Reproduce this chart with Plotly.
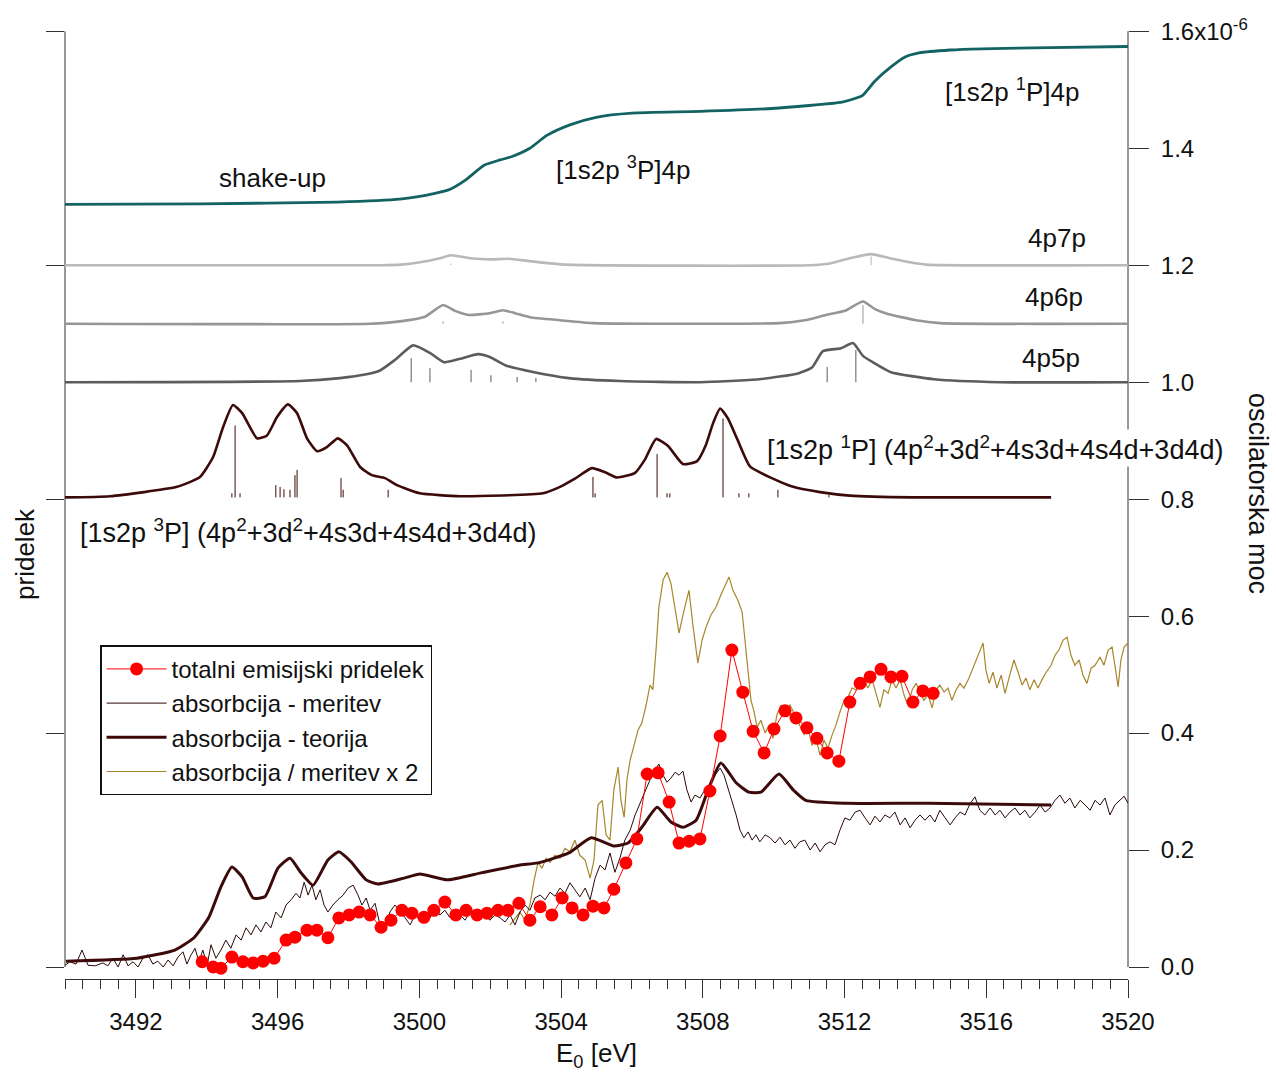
import plotly.graph_objects as go

# ---------------- upper panel: theoretical cross sections ----------------
shake_e = [3490.00, 3493.81, 3497.68, 3499.45, 3500.44, 3500.87, 3501.29, 3501.83, 3502.28,
           3502.62, 3503.12, 3503.60, 3504.25, 3504.99, 3506.00, 3507.92, 3509.95, 3511.93,
           3512.29, 3512.52, 3512.86, 3513.31, 3513.71, 3514.10, 3514.98, 3515.88, 3517.80, 3520.00]
shake_v = [1.304, 1.305, 1.308, 1.313, 1.323, 1.330, 1.345, 1.371, 1.380,
           1.386, 1.400, 1.422, 1.440, 1.453, 1.460, 1.463, 1.468, 1.479,
           1.485, 1.491, 1.515, 1.539, 1.556, 1.563, 1.568, 1.570, 1.572, 1.574]

p7_e = [3490.00, 3498.89, 3499.48, 3500.02, 3500.58, 3500.89, 3501.43, 3501.99, 3502.53, 3503.12,
        3504.14, 3511.00, 3511.59, 3512.15, 3512.75, 3513.28, 3513.85, 3514.30, 3520.00]
p7_v = [1.200, 1.200, 1.201, 1.205, 1.212, 1.217, 1.212, 1.210, 1.211, 1.207,
        1.201, 1.200, 1.203, 1.212, 1.219, 1.212, 1.205, 1.201, 1.200]

p6_e = [3490.00, 3498.61, 3499.45, 3500.16, 3500.67, 3501.01, 3501.40, 3501.99, 3502.36, 3502.70,
        3503.12, 3503.97, 3504.93, 3510.18, 3510.88, 3511.48, 3512.01, 3512.52, 3512.86, 3513.20,
        3514.02, 3514.69, 3520.00]
p6_v = [1.100, 1.100, 1.104, 1.112, 1.132, 1.122, 1.115, 1.118, 1.123, 1.118,
        1.111, 1.106, 1.101, 1.101, 1.106, 1.115, 1.122, 1.138, 1.125, 1.117,
        1.106, 1.101, 1.100]

p5_e = [3490.00, 3496.63, 3497.76, 3498.47, 3498.89, 3499.31, 3499.82, 3500.30, 3500.70, 3501.15,
        3501.66, 3501.99, 3502.42, 3503.24, 3504.22, 3505.66, 3507.92, 3509.59, 3510.69, 3511.08,
        3511.39, 3511.90, 3512.24, 3512.52, 3512.80, 3513.31, 3514.53, 3516.39, 3520.00]
p5_v = [1.000, 1.002, 1.007, 1.013, 1.020, 1.038, 1.063, 1.050, 1.034, 1.040,
        1.048, 1.043, 1.029, 1.017, 1.007, 1.002, 1.000, 1.005, 1.015, 1.025,
        1.053, 1.058, 1.067, 1.045, 1.034, 1.017, 1.005, 1.000, 1.000]

# oscillator-strength sticks for the 4pnp shake-up series
p5_stick_e = [3499.77, 3500.30, 3501.46, 3502.02, 3502.76, 3503.29, 3511.51, 3512.32]
p5_stick_v = [1.041, 1.024, 1.021, 1.012, 1.009, 1.007, 1.026, 1.055]
p6_stick_e = [3500.67, 3502.36, 3512.52]
p6_stick_v = [1.104, 1.104, 1.132]
p7_stick_e = [3500.89, 3512.75]
p7_stick_v = [1.203, 1.215]

# [1s2p] two-electron excitations
kl_e = [3490.00, 3491.27, 3493.16, 3493.81, 3494.18, 3494.46, 3494.74, 3495.00, 3495.42, 3495.70,
        3495.98, 3496.29, 3496.55, 3496.83, 3497.11, 3497.39, 3497.70, 3497.96, 3498.33, 3498.66,
        3499.03, 3499.37, 3500.02, 3501.15, 3503.49, 3503.97, 3504.39, 3504.87, 3505.24, 3505.58,
        3506.09, 3506.37, 3506.68, 3507.02, 3507.44, 3507.84, 3508.09, 3508.29, 3508.49, 3508.71,
        3508.97, 3509.33, 3509.98, 3510.55, 3511.31, 3512.15, 3513.93, 3517.83]
kl_v = [0.803, 0.805, 0.821, 0.838, 0.872, 0.923, 0.961, 0.947, 0.904, 0.909,
        0.940, 0.962, 0.947, 0.904, 0.882, 0.889, 0.904, 0.892, 0.855, 0.841,
        0.836, 0.824, 0.810, 0.805, 0.810, 0.821, 0.835, 0.853, 0.846, 0.837,
        0.845, 0.868, 0.903, 0.891, 0.860, 0.865, 0.893, 0.930, 0.955, 0.938,
        0.903, 0.856, 0.835, 0.821, 0.812, 0.806, 0.803, 0.803]
kl_base = 0.803
kl_stick_e = [3494.71, 3494.80, 3494.94, 3495.95, 3496.07, 3496.18, 3496.35, 3496.49, 3496.55,
              3497.79, 3497.85, 3499.12, 3504.90, 3504.96, 3506.71, 3506.99, 3507.07, 3508.57,
              3509.02, 3509.30, 3510.12, 3511.56]
kl_stick_v = [0.810, 0.926, 0.810, 0.824, 0.821, 0.817, 0.816, 0.841, 0.850,
              0.836, 0.816, 0.816, 0.838, 0.810, 0.877, 0.810, 0.810, 0.938,
              0.810, 0.810, 0.816, 0.807]

# ---------------- lower panel: absorption and yield ----------------
teor_e = [3490.03, 3492.03, 3493.10, 3493.64, 3494.06, 3494.40, 3494.71, 3495.00, 3495.31, 3495.64,
          3496.01, 3496.35, 3496.66, 3497.00, 3497.42, 3497.73, 3498.07, 3498.50, 3498.83, 3499.57,
          3500.02, 3500.78, 3501.74, 3502.81, 3503.35, 3504.22, 3504.85, 3505.49, 3505.89, 3506.28,
          3506.71, 3507.10, 3507.44, 3507.81, 3508.15, 3508.51, 3508.94, 3509.30, 3509.64, 3510.15,
          3510.55, 3510.91, 3512.07, 3514.36, 3517.83]
teor_v = [0.010, 0.015, 0.029, 0.050, 0.085, 0.137, 0.171, 0.154, 0.118, 0.120,
          0.169, 0.186, 0.161, 0.140, 0.183, 0.197, 0.180, 0.149, 0.142, 0.152,
          0.159, 0.149, 0.161, 0.174, 0.178, 0.195, 0.221, 0.207, 0.212, 0.239,
          0.273, 0.248, 0.239, 0.251, 0.303, 0.349, 0.315, 0.299, 0.299, 0.330,
          0.303, 0.285, 0.280, 0.280, 0.277]

mer_e = [3490.00, 3490.14, 3490.31, 3490.48, 3490.65, 3490.85, 3491.07, 3491.21, 3491.35, 3491.50,
         3491.64, 3491.78, 3491.92, 3492.06, 3492.20, 3492.34, 3492.48, 3492.62, 3492.77, 3492.91,
         3493.05, 3493.19, 3493.33, 3493.44, 3493.56, 3493.67, 3493.78, 3493.89, 3494.01, 3494.12,
         3494.26, 3494.40, 3494.54, 3494.68, 3494.83, 3494.97, 3495.11, 3495.25, 3495.39, 3495.53,
         3495.67, 3495.81, 3495.95, 3496.10, 3496.24, 3496.38, 3496.52, 3496.63, 3496.75, 3496.86,
         3496.97, 3497.08, 3497.20, 3497.31, 3497.42, 3497.56, 3497.70, 3497.85, 3497.99, 3498.13,
         3498.27, 3498.38, 3498.50, 3498.61, 3498.75, 3498.89, 3499.03, 3499.17, 3499.31, 3499.45,
         3499.60, 3499.74, 3499.88, 3500.02, 3500.16, 3500.30, 3500.44, 3500.58, 3500.72, 3500.87,
         3501.01, 3501.15, 3501.29, 3501.43, 3501.57, 3501.71, 3501.85, 3501.99, 3502.14, 3502.28,
         3502.42, 3502.56, 3502.70, 3502.84, 3502.98, 3503.12, 3503.26, 3503.41, 3503.55, 3503.69,
         3503.83, 3503.97, 3504.11, 3504.25, 3504.39, 3504.53, 3504.68, 3504.82, 3504.96, 3505.10,
         3505.24, 3505.38, 3505.52, 3505.66, 3505.80, 3505.95, 3506.09, 3506.23, 3506.37, 3506.51,
         3506.65, 3506.76, 3506.88, 3506.99, 3507.10, 3507.22, 3507.33, 3507.44, 3507.55, 3507.67,
         3507.78, 3507.92, 3508.06, 3508.20, 3508.34, 3508.49, 3508.60, 3508.71, 3508.82, 3508.94,
         3509.05, 3509.16, 3509.28, 3509.39, 3509.50, 3509.61, 3509.76, 3509.90, 3510.04, 3510.18,
         3510.32, 3510.46, 3510.60, 3510.74, 3510.88, 3511.03, 3511.17, 3511.31, 3511.45, 3511.59,
         3511.73, 3511.87, 3512.01, 3512.15, 3512.30, 3512.44, 3512.58, 3512.72, 3512.86, 3513.00,
         3513.14, 3513.28, 3513.42, 3513.57, 3513.71, 3513.85, 3513.99, 3514.13, 3514.27, 3514.41,
         3514.55, 3514.69, 3514.84, 3514.98, 3515.12, 3515.26, 3515.40, 3515.54, 3515.68, 3515.82,
         3515.96, 3516.11, 3516.25, 3516.39, 3516.53, 3516.67, 3516.81, 3516.95, 3517.09, 3517.23,
         3517.38, 3517.52, 3517.66, 3517.80, 3517.94, 3518.08, 3518.22, 3518.36, 3518.50, 3518.65,
         3518.79, 3518.93, 3519.07, 3519.21, 3519.35, 3519.49, 3519.63, 3519.77, 3519.89, 3520.00]
mer_v = [0.003, 0.009, 0.005, 0.029, 0.003, 0.002, 0.007, 0.002, 0.015, 0.000,
         0.021, 0.002, 0.009, 0.000, 0.015, 0.021, 0.005, 0.010, 0.000, 0.012,
         0.002, 0.017, 0.026, 0.005, 0.021, 0.032, 0.009, 0.029, 0.003, 0.038,
         0.015, 0.029, 0.046, 0.032, 0.055, 0.046, 0.067, 0.055, 0.072, 0.060,
         0.077, 0.067, 0.094, 0.084, 0.106, 0.115, 0.126, 0.118, 0.145, 0.123,
         0.140, 0.115, 0.132, 0.106, 0.094, 0.106, 0.115, 0.123, 0.135, 0.140,
         0.123, 0.106, 0.118, 0.097, 0.109, 0.072, 0.063, 0.094, 0.106, 0.097,
         0.084, 0.072, 0.089, 0.080, 0.094, 0.084, 0.101, 0.089, 0.097, 0.084,
         0.094, 0.089, 0.080, 0.094, 0.084, 0.097, 0.089, 0.080, 0.089, 0.084,
         0.077, 0.089, 0.072, 0.094, 0.106, 0.097, 0.118, 0.123, 0.115, 0.128,
         0.121, 0.135, 0.126, 0.144, 0.132, 0.120, 0.135, 0.115, 0.152, 0.174,
         0.166, 0.195, 0.162, 0.186, 0.217, 0.234, 0.260, 0.280, 0.303, 0.320,
         0.337, 0.347, 0.328, 0.316, 0.323, 0.333, 0.328, 0.335, 0.303, 0.282,
         0.294, 0.289, 0.303, 0.311, 0.328, 0.340, 0.328, 0.306, 0.285, 0.260,
         0.234, 0.221, 0.231, 0.217, 0.226, 0.214, 0.226, 0.221, 0.212, 0.222,
         0.209, 0.217, 0.203, 0.214, 0.217, 0.200, 0.212, 0.197, 0.209, 0.214,
         0.209, 0.234, 0.255, 0.251, 0.265, 0.268, 0.255, 0.243, 0.258, 0.248,
         0.260, 0.255, 0.265, 0.243, 0.255, 0.238, 0.251, 0.260, 0.251, 0.260,
         0.248, 0.268, 0.255, 0.243, 0.255, 0.265, 0.260, 0.279, 0.291, 0.268,
         0.260, 0.272, 0.260, 0.268, 0.255, 0.265, 0.272, 0.260, 0.268, 0.255,
         0.265, 0.277, 0.265, 0.272, 0.285, 0.294, 0.280, 0.289, 0.272, 0.285,
         0.277, 0.268, 0.285, 0.277, 0.289, 0.260, 0.277, 0.285, 0.292, 0.280]

x2_e = [3502.56, 3502.70, 3502.84, 3502.98, 3503.12, 3503.24, 3503.35, 3503.46, 3503.58, 3503.69,
        3503.83, 3503.97, 3504.11, 3504.25, 3504.39, 3504.53, 3504.68, 3504.82, 3504.93, 3505.04,
        3505.16, 3505.27, 3505.38, 3505.49, 3505.61, 3505.69, 3505.78, 3505.86, 3505.95, 3506.06,
        3506.17, 3506.28, 3506.40, 3506.51, 3506.59, 3506.68, 3506.76, 3506.88, 3506.99, 3507.10,
        3507.22, 3507.33, 3507.47, 3507.61, 3507.72, 3507.86, 3507.98, 3508.09, 3508.23, 3508.37,
        3508.51, 3508.63, 3508.74, 3508.85, 3508.99, 3509.11, 3509.19, 3509.28, 3509.36, 3509.45,
        3509.53, 3509.64, 3509.76, 3509.87, 3509.98, 3510.09, 3510.21, 3510.32, 3510.46, 3510.60,
        3510.74, 3510.86, 3510.97, 3511.08, 3511.20, 3511.31, 3511.42, 3511.53, 3511.65, 3511.76,
        3511.87, 3511.99, 3512.10, 3512.21, 3512.32, 3512.44, 3512.55, 3512.66, 3512.78, 3512.89,
        3513.00, 3513.11, 3513.23, 3513.34, 3513.45, 3513.57, 3513.68, 3513.79, 3513.91, 3514.02,
        3514.13, 3514.24, 3514.36, 3514.47, 3514.58, 3514.69, 3514.81, 3514.92, 3515.03, 3515.15,
        3515.26, 3515.37, 3515.49, 3515.60, 3515.71, 3515.82, 3515.91, 3515.99, 3516.08, 3516.19,
        3516.30, 3516.42, 3516.53, 3516.64, 3516.78, 3516.90, 3517.01, 3517.12, 3517.23, 3517.35,
        3517.46, 3517.57, 3517.69, 3517.83, 3517.94, 3518.05, 3518.17, 3518.28, 3518.39, 3518.50,
        3518.62, 3518.73, 3518.84, 3518.96, 3519.07, 3519.21, 3519.32, 3519.44, 3519.55, 3519.63,
        3519.72, 3519.80, 3519.89, 3520.00]
x2_v = [0.072, 0.084, 0.094, 0.080, 0.106, 0.149, 0.179, 0.169, 0.186, 0.179,
        0.191, 0.186, 0.203, 0.197, 0.217, 0.191, 0.183, 0.152, 0.183, 0.277,
        0.285, 0.226, 0.217, 0.303, 0.342, 0.285, 0.256, 0.320, 0.354, 0.379,
        0.405, 0.417, 0.448, 0.482, 0.474, 0.542, 0.615, 0.662, 0.675, 0.656,
        0.610, 0.571, 0.610, 0.644, 0.585, 0.520, 0.559, 0.581, 0.602, 0.615,
        0.636, 0.653, 0.667, 0.644, 0.627, 0.607, 0.559, 0.516, 0.456, 0.436,
        0.410, 0.422, 0.400, 0.414, 0.391, 0.431, 0.448, 0.436, 0.448, 0.431,
        0.414, 0.397, 0.409, 0.379, 0.391, 0.362, 0.388, 0.374, 0.397, 0.414,
        0.436, 0.456, 0.462, 0.477, 0.474, 0.485, 0.491, 0.477, 0.491, 0.465,
        0.444, 0.474, 0.468, 0.491, 0.477, 0.491, 0.465, 0.448, 0.474, 0.485,
        0.470, 0.456, 0.465, 0.443, 0.474, 0.482, 0.470, 0.477, 0.456, 0.474,
        0.485, 0.477, 0.491, 0.508, 0.525, 0.542, 0.554, 0.508, 0.485, 0.504,
        0.477, 0.499, 0.468, 0.494, 0.525, 0.504, 0.482, 0.494, 0.474, 0.491,
        0.477, 0.491, 0.504, 0.516, 0.533, 0.542, 0.559, 0.564, 0.533, 0.516,
        0.525, 0.499, 0.485, 0.511, 0.516, 0.530, 0.516, 0.542, 0.547, 0.516,
        0.479, 0.525, 0.547, 0.554]

tey_e = [3493.87, 3494.18, 3494.40, 3494.71, 3495.02, 3495.31, 3495.59, 3495.90, 3496.24, 3496.49,
         3496.83, 3497.11, 3497.42, 3497.73, 3498.02, 3498.30, 3498.61, 3498.92, 3499.20, 3499.51,
         3499.79, 3500.13, 3500.41, 3500.72, 3501.03, 3501.32, 3501.63, 3501.91, 3502.22, 3502.50,
         3502.81, 3503.12, 3503.41, 3503.74, 3504.03, 3504.31, 3504.62, 3504.90, 3505.21, 3505.49,
         3505.83, 3506.14, 3506.43, 3506.74, 3507.05, 3507.33, 3507.61, 3507.92, 3508.20, 3508.49,
         3508.82, 3509.13, 3509.42, 3509.73, 3510.01, 3510.32, 3510.63, 3510.94, 3511.22, 3511.51,
         3511.84, 3512.15, 3512.44, 3512.72, 3513.03, 3513.31, 3513.62, 3513.93, 3514.21, 3514.50]
tey_v = [0.009, 0.000, -0.002, 0.017, 0.009, 0.007, 0.010, 0.015, 0.046, 0.051,
         0.063, 0.063, 0.050, 0.084, 0.089, 0.094, 0.089, 0.068, 0.080, 0.097,
         0.092, 0.085, 0.097, 0.111, 0.089, 0.097, 0.089, 0.092, 0.097, 0.097,
         0.109, 0.080, 0.103, 0.089, 0.118, 0.101, 0.089, 0.104, 0.101, 0.133,
         0.178, 0.219, 0.330, 0.332, 0.282, 0.212, 0.215, 0.219, 0.301, 0.395,
         0.542, 0.470, 0.403, 0.366, 0.407, 0.438, 0.426, 0.409, 0.391, 0.366,
         0.352, 0.453, 0.485, 0.496, 0.509, 0.496, 0.497, 0.453, 0.472, 0.468]

x_ticks = [3492, 3496, 3500, 3504, 3508, 3512, 3516, 3520]
right_ticks = [0.0, 0.2, 0.4, 0.6, 0.8, 1.0, 1.2, 1.4, 1.6]
right_labels = ["0.0", "0.2", "0.4", "0.6", "0.8", "1.0", "1.2", "1.4", "1.6x10<sup>-6</sup>"]
left_ticks = [0.0, 0.4, 0.8, 1.2, 1.6]

FONT = "Liberation Sans, Arial, sans-serif"
AXC = "#333333"
C_TEAL = "#136363"
C_P7 = "#b9b9b9"
C_P6 = "#969696"
C_P5 = "#5c5c5c"
C_BROWN = "#3c0a0a"
C_THIN = "#2a0808"
C_GOLD = "#a8862c"
C_RED = "#ff0000"


def sticks(e, top, base):
    xs, ys = [], []
    for xe, yt in zip(e, top):
        xs += [xe, xe, None]
        ys += [base, yt, None]
    return xs, ys


fig = go.Figure()

# upper theoretical curves (right axis)
fig.add_trace(go.Scatter(x=shake_e, y=shake_v, mode="lines",
                         line=dict(color=C_TEAL, width=2.8, shape="spline", smoothing=0.6),
                         yaxis="y2", showlegend=False))
for e, v, col in [(p7_e, p7_v, C_P7), (p6_e, p6_v, C_P6), (p5_e, p5_v, C_P5)]:
    fig.add_trace(go.Scatter(x=e, y=v, mode="lines", line=dict(color=col, width=2.6, shape="spline", smoothing=0.5),
                             yaxis="y2", showlegend=False))
for e, v, base, col in [(p7_stick_e, p7_stick_v, 1.2, C_P7), (p6_stick_e, p6_stick_v, 1.1, C_P6),
                        (p5_stick_e, p5_stick_v, 1.0, C_P5), (kl_stick_e, kl_stick_v, kl_base, C_BROWN)]:
    sx, sy = sticks(e, v, base)
    fig.add_trace(go.Scatter(x=sx, y=sy, mode="lines", line=dict(color=col, width=1),
                             yaxis="y2", showlegend=False))
fig.add_trace(go.Scatter(x=kl_e, y=kl_v, mode="lines",
                         line=dict(color=C_BROWN, width=2.6, shape="spline", smoothing=0.5),
                         yaxis="y2", showlegend=False))

# lower panel
fig.add_trace(go.Scatter(x=x2_e, y=x2_v, mode="lines", line=dict(color=C_GOLD, width=1.2),
                         name="absorbcija / meritev x 2", legendrank=4))
fig.add_trace(go.Scatter(x=mer_e, y=mer_v, mode="lines", line=dict(color=C_THIN, width=1),
                         name="absorbcija - meritev", legendrank=2))
fig.add_trace(go.Scatter(x=teor_e, y=teor_v, mode="lines",
                         line=dict(color=C_BROWN, width=3, shape="spline", smoothing=0.5),
                         name="absorbcija - teorija", legendrank=3))
fig.add_trace(go.Scatter(x=tey_e, y=tey_v, mode="lines+markers", line=dict(color=C_RED, width=1),
                         marker=dict(color=C_RED, size=13, symbol="circle"),
                         name="totalni emisijski pridelek", legendrank=1))

# vertical axis lines spanning 0 .. 1.6
for xp in (0, 1):
    fig.add_shape(type="line", xref="paper", yref="y", x0=xp, x1=xp, y0=0, y1=1.6,
                  line=dict(color=AXC, width=1), layer="below")

txt = dict(family=FONT, size=26, color="#111111")
txt_long = dict(family=FONT, size=27, color="#111111")
ann = [
    dict(x=3495.87, y=1.349, text="shake-up", xanchor="center", font=txt),
    dict(x=3503.80, y=1.366, text="[1s2p <sup>3</sup>P]4p", xanchor="left", font=txt),
    dict(x=3514.78, y=1.499, text="[1s2p <sup>1</sup>P]4p", xanchor="left", font=txt),
    dict(x=3518.87, y=1.246, text="4p7p", xanchor="right", font=txt),
    dict(x=3518.79, y=1.145, text="4p6p", xanchor="right", font=txt),
    dict(x=3518.70, y=1.041, text="4p5p", xanchor="right", font=txt),
    dict(x=3509.76, y=0.887, text="[1s2p <sup>1</sup>P] (4p<sup>2</sup>+3d<sup>2</sup>+4s3d+4s4d+3d4d)",
         xanchor="left", bgcolor="white", font=txt_long),
    dict(x=3490.37, y=0.745, text="[1s2p <sup>3</sup>P] (4p<sup>2</sup>+3d<sup>2</sup>+4s3d+4s4d+3d4d)",
         xanchor="left", font=txt_long),
]
for a in ann:
    fig.add_annotation(xref="x", yref="y", yanchor="middle", showarrow=False, **a)

fig.add_annotation(xref="paper", yref="paper", x=-0.037, y=0.448, text="pridelek", textangle=-90,
                   showarrow=False, font=txt, xanchor="center", yanchor="middle")
fig.add_annotation(xref="paper", yref="paper", x=1.123, y=0.512, text="oscilatorska moc", textangle=90,
                   showarrow=False, font=txt_long, xanchor="center", yanchor="middle")

yr = [-0.0205, 1.6005]
fig.update_layout(
    width=1276, height=1075,
    margin=dict(l=65, r=148, t=31, b=96),
    paper_bgcolor="white", plot_bgcolor="white",
    font=dict(family=FONT, size=24, color="#111111"),
    xaxis=dict(range=[3490, 3520], tickvals=x_ticks, ticks="outside", ticklen=18, tickcolor=AXC,
               showline=True, linecolor=AXC, linewidth=1, showgrid=False, zeroline=False,
               minor=dict(dtick=0.5, tick0=3490, ticks="outside", ticklen=9, tickcolor=AXC),
               tickfont=dict(family=FONT, size=24), ticklabelstandoff=3,
               title=dict(text="E<sub>0</sub> [eV]", font=dict(family=FONT, size=26), standoff=10)),
    yaxis=dict(range=yr, tickvals=left_ticks, ticks="outside", ticklen=18, tickcolor=AXC,
               showticklabels=False, showline=False, showgrid=False, zeroline=False),
    yaxis2=dict(range=yr, overlaying="y", side="right", tickvals=right_ticks, ticktext=right_labels,
                ticks="outside", ticklen=20, tickcolor=AXC, showline=False, showgrid=False, zeroline=False,
                tickfont=dict(family=FONT, size=24), ticklabelstandoff=7),
    legend=dict(x=0.033, y=0.352, xanchor="left", yanchor="top", bgcolor="white",
                bordercolor="#111111", borderwidth=1.5, font=dict(family=FONT, size=24),
                itemwidth=60, tracegroupgap=0),
    showlegend=True,
)

fig.write_html("out.html")
